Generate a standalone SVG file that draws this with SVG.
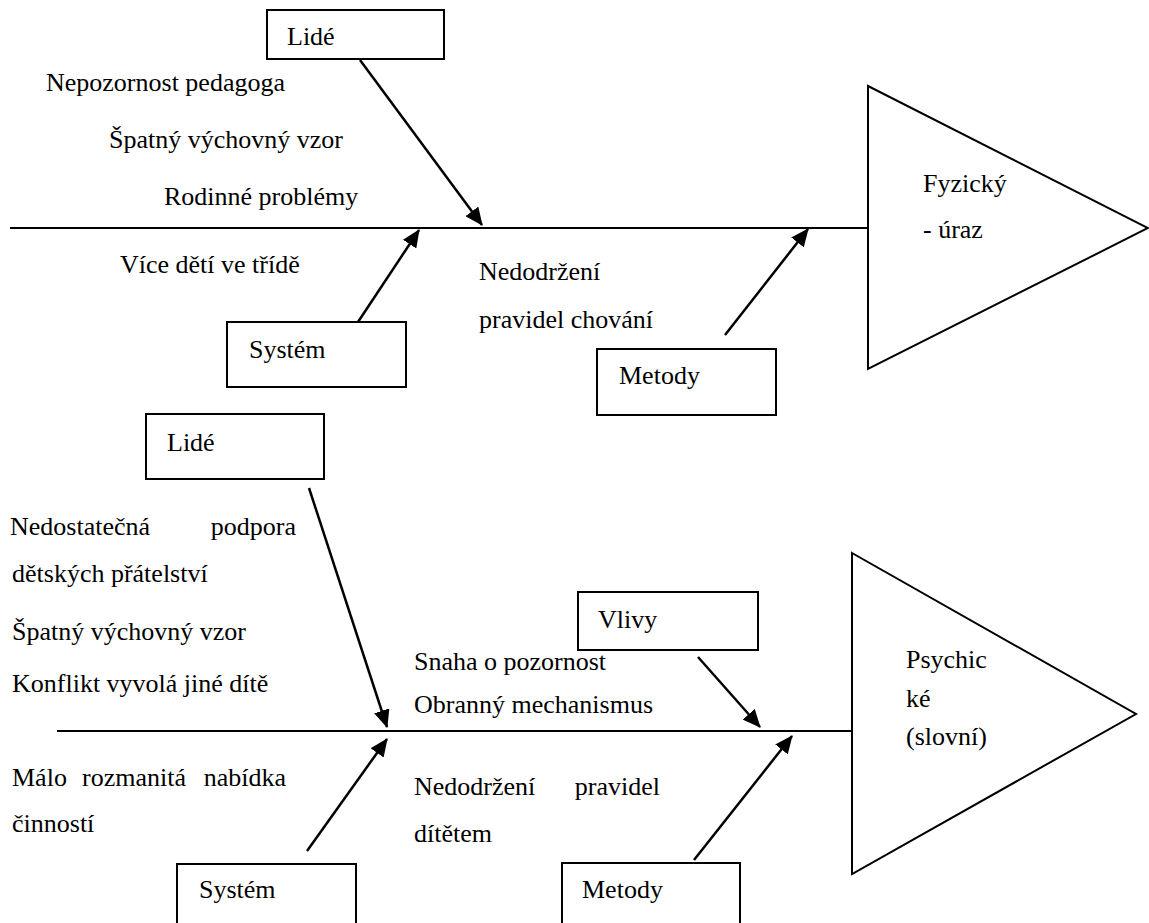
<svg xmlns="http://www.w3.org/2000/svg" width="1149" height="923" viewBox="0 0 1149 923">
  <defs>
    <marker id="arrow" markerUnits="userSpaceOnUse" markerWidth="18" markerHeight="16" viewBox="0 0 18 16" refX="17" refY="8" orient="auto">
      <path d="M0,0 L18,8 L0,16 Z" fill="#000"/>
    </marker>
    <style>
      .box { fill: #fff; stroke: #000; stroke-width: 2; }
      .tri { fill: #fff; stroke: #000; stroke-width: 2; }
      .spine { stroke: #000; stroke-width: 2; fill: none; }
      .bone { stroke: #000; stroke-width: 2.5; fill: none; marker-end: url(#arrow); }
      .lbl { font-family: 'Liberation Serif', 'DejaVu Serif', 'Times New Roman', serif; font-size: 26px; fill: #000; }
    </style>
  </defs>
  <rect width="1149" height="923" fill="#fff"/>

  <!-- Upper diagram: Fyzický - úraz -->
  <g id="connectors-upper">
    <line class="spine" x1="10" y1="228" x2="868" y2="228"/>
    <line class="bone" x1="360" y1="60" x2="482" y2="225"/>
    <line class="bone" x1="358" y1="322" x2="419" y2="230"/>
    <line class="bone" x1="725" y1="335" x2="808" y2="229"/>
  </g>
  <g id="head-upper" class="lbl" font-family="Liberation Serif, DejaVu Serif, serif">
    <polygon class="tri" points="868,86 1148,228 868,369"/>
    <text x="923" y="192">Fyzický</text>
    <text x="923" y="238">- úraz</text>
  </g>
  <g id="lide-upper" class="lbl" font-family="Liberation Serif, DejaVu Serif, serif">
    <rect class="box" x="267" y="10" width="177" height="49"/>
    <text x="287" y="45">Lidé</text>
  </g>
  <g id="system-upper" class="lbl" font-family="Liberation Serif, DejaVu Serif, serif">
    <rect class="box" x="227" y="322" width="179" height="65"/>
    <text x="249" y="358">Systém</text>
  </g>
  <g id="metody-upper" class="lbl" font-family="Liberation Serif, DejaVu Serif, serif">
    <rect class="box" x="597" y="349" width="179" height="66"/>
    <text x="619" y="384">Metody</text>
  </g>
  <g id="causes-upper" class="lbl" font-family="Liberation Serif, DejaVu Serif, serif">
    <text x="46" y="91">Nepozornost pedagoga</text>
    <text x="109" y="148">Špatný výchovný vzor</text>
    <text x="164" y="205">Rodinné problémy</text>
    <text x="120" y="273">Více dětí ve třídě</text>
    <text x="479" y="280">Nedodržení</text>
    <text x="479" y="328">pravidel chování</text>
  </g>

  <!-- Lower diagram: Psychické (slovní) -->
  <g id="connectors-lower">
    <line class="spine" x1="57" y1="731" x2="852" y2="731"/>
    <line class="bone" x1="309" y1="488" x2="387" y2="727"/>
    <line class="bone" x1="307" y1="851" x2="387" y2="739"/>
    <line class="bone" x1="698" y1="657" x2="760" y2="727"/>
    <line class="bone" x1="694" y1="860" x2="792" y2="736"/>
  </g>
  <g id="head-lower" class="lbl" font-family="Liberation Serif, DejaVu Serif, serif">
    <polygon class="tri" points="852,553 1136,714 852,874"/>
    <text x="906" y="668">Psychic</text>
    <text x="906" y="707">ké</text>
    <text x="906" y="745">(slovní)</text>
  </g>
  <g id="lide-lower" class="lbl" font-family="Liberation Serif, DejaVu Serif, serif">
    <rect class="box" x="146" y="414" width="178" height="65"/>
    <text x="167" y="451">Lidé</text>
  </g>
  <g id="vlivy-lower" class="lbl" font-family="Liberation Serif, DejaVu Serif, serif">
    <rect class="box" x="578" y="592" width="180" height="58"/>
    <text x="598" y="628">Vlivy</text>
  </g>
  <g id="system-lower" class="lbl" font-family="Liberation Serif, DejaVu Serif, serif">
    <rect class="box" x="177" y="864" width="179" height="70"/>
    <text x="199" y="898">Systém</text>
  </g>
  <g id="metody-lower" class="lbl" font-family="Liberation Serif, DejaVu Serif, serif">
    <rect class="box" x="562" y="863" width="178" height="70"/>
    <text x="582" y="898">Metody</text>
  </g>
  <g id="causes-lower" class="lbl" font-family="Liberation Serif, DejaVu Serif, serif">
    <text x="10" y="535">Nedostatečná</text>
    <text x="296" y="535" text-anchor="end">podpora</text>
    <text x="12" y="582">dětských přátelství</text>
    <text x="12" y="640">Špatný výchovný vzor</text>
    <text x="12" y="692">Konflikt vyvolá jiné dítě</text>
    <text x="12" y="786">Málo</text>
    <text x="82" y="786">rozmanitá</text>
    <text x="286" y="786" text-anchor="end">nabídka</text>
    <text x="12" y="832">činností</text>
    <text x="414" y="670">Snaha o pozornost</text>
    <text x="414" y="713">Obranný mechanismus</text>
    <text x="414" y="795">Nedodržení</text>
    <text x="660" y="795" text-anchor="end">pravidel</text>
    <text x="414" y="842">dítětem</text>
  </g>
</svg>
